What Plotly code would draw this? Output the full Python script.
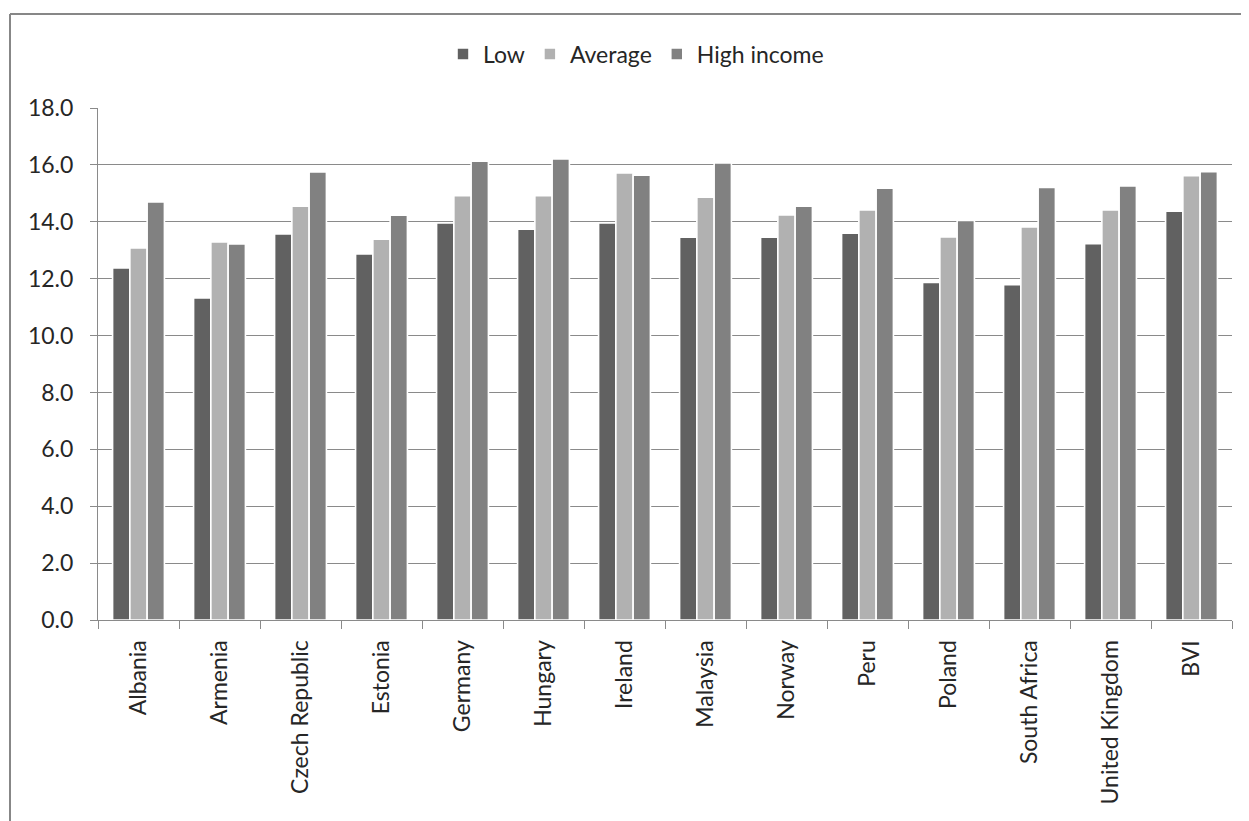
import plotly.graph_objects as go

categories = ["Albania", "Armenia", "Czech Republic", "Estonia", "Germany", "Hungary",
              "Ireland", "Malaysia", "Norway", "Peru", "Poland", "South Africa",
              "United Kingdom", "BVI"]
low = [12.38, 11.32, 13.57, 12.87, 13.96, 13.74, 13.96, 13.46, 13.46, 13.60, 11.87, 11.79, 13.23, 14.37]
average = [13.08, 13.29, 14.55, 13.39, 14.92, 14.92, 15.72, 14.86, 14.24, 14.42, 13.47, 13.82, 14.42, 15.62]
high = [14.70, 13.22, 15.75, 14.23, 16.13, 16.21, 15.64, 16.07, 14.55, 15.18, 14.05, 15.21, 15.26, 15.76]
series_names = ["Low", "Average", "High income"]
series_colors = ["#616161", "#b1b1b1", "#818181"]
y_ticks = [0, 2, 4, 6, 8, 10, 12, 14, 16, 18]

W, H = 1249, 821
OFF = 8  # page body margin offset
L, R, T, B = 98 - OFF, W - (1232 - OFF), 108 - OFF, H - (620 - OFF)
FONT = "Lato"
FS = 23
GRID = "#8a8a8a"
TXT = "#262626"

fig = go.Figure()
for name, vals, col in zip(series_names, [low, average, high], series_colors):
    fig.add_trace(go.Bar(
        x=categories, y=vals, name=name,
        marker=dict(color=col, line=dict(color="white", width=1.6)),
    ))

pw = W - L - R
ph = H - T - B
def px_x(p):
    return (p - OFF - L) / pw
def px_y(p):
    return (H - B - (p - OFF)) / ph

fig.update_layout(
    width=W, height=H,
    margin=dict(l=L, r=R, t=T, b=B, autoexpand=False),
    paper_bgcolor="white", plot_bgcolor="white",
    barmode="group", bargap=0.36, bargroupgap=0,
    font=dict(family=FONT, size=FS, color=TXT),
    showlegend=True,
    legend=dict(orientation="h", x=px_x(636), xanchor="center", y=px_y(54), yanchor="middle",
                font=dict(family=FONT, size=FS, color=TXT),
                itemwidth=30, traceorder="normal"),
    xaxis=dict(
        type="category", showgrid=False, showline=True, linecolor=GRID, linewidth=1,
        ticks="outside", tickson="boundaries", ticklen=8, tickcolor=GRID,
        tickangle=-90, tickfont=dict(family=FONT, size=FS, color=TXT),
        ticklabelstandoff=10,
        fixedrange=True,
    ),
    yaxis=dict(
        range=[0, 18], tickvals=y_ticks, tickformat=".1f",
        showgrid=True, gridcolor=GRID, gridwidth=1,
        showline=True, linecolor=GRID, linewidth=1,
        ticks="outside", ticklen=7, tickcolor=GRID,
        tickfont=dict(family=FONT, size=FS, color=TXT),
        ticklabelstandoff=12,
        zeroline=False, fixedrange=True,
    ),
    shapes=[
        dict(type="line", xref="paper", yref="paper",
             x0=px_x(10), x1=px_x(10), y0=px_y(840), y1=px_y(14),
             line=dict(color="#878787", width=2)),
        dict(type="line", xref="paper", yref="paper",
             x0=px_x(10), x1=px_x(1270), y0=px_y(14), y1=px_y(14),
             line=dict(color="#878787", width=2)),
    ],
)

fig.write_html("out.html")
